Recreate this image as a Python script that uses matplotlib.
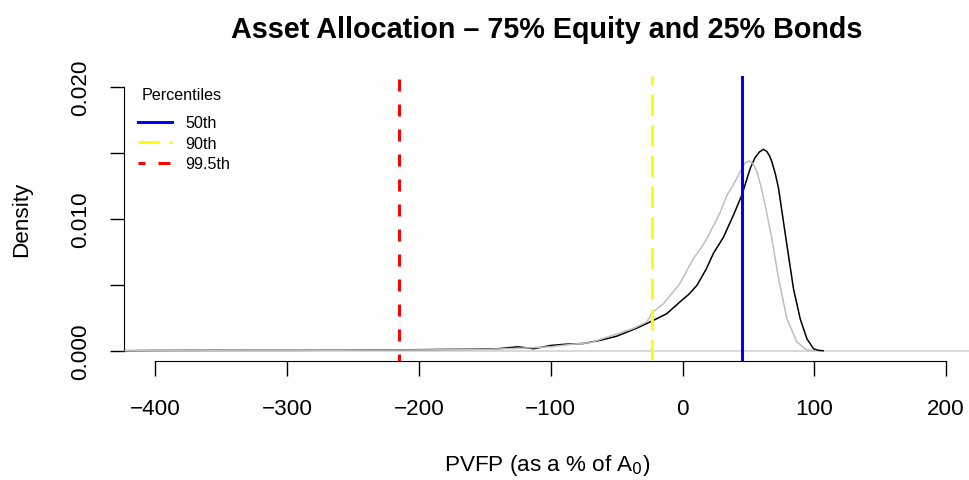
import matplotlib
matplotlib.use("Agg")
import matplotlib.pyplot as plt
from matplotlib.lines import Line2D

plt.rcParams['font.family'] = ['Liberation Sans', 'DejaVu Sans']
plt.rcParams['lines.scale_dashes'] = False

# ── density curves ───────────────────────────────────────────
eq75_x = [-423, -400, -350, -300, -260, -230, -200, -180, -160, -140, -125,
          -113, -100, -88, -75, -62, -50, -35, -23, -12, -2, 5, 11, 18,
          23.5, 31, 38.7, 45, 51.4, 55, 58.5, 61.5, 64, 66, 67.8, 70.5,
          72.9, 76.6, 80.4, 84.2, 89.3, 94.4, 99.4, 103, 106.7]
eq75_y = [0.0, 0.00002, 0.00003, 0.00003, 0.00004, 0.00006, 0.00008, 0.0001,
          0.00011, 0.00015, 0.0003, 0.00015, 0.0004, 0.0005, 0.00055,
          0.0008, 0.0011, 0.0017, 0.00226, 0.00281, 0.0037, 0.0043, 0.00497,
          0.0062, 0.0074, 0.0086, 0.0103, 0.0118, 0.01384, 0.01465, 0.0151,
          0.01528, 0.01512, 0.0148, 0.01435, 0.0134, 0.01232, 0.00979,
          0.00725, 0.00472, 0.00243, 0.00091, 0.00015, 0.00003, 0.0]

ref_x = [-423, -300, -250, -200, -150, -125, -100, -83, -70, -52, -37, -27,
         -23, -14.4, -2, 8.3, 13.4, 18.5, 23.5, 28.6, 33.7, 38.7, 43.8, 47.5,
         50.8, 53.5, 56.4, 59.5, 62.7, 67.8, 72.9, 79.2, 86.8, 94.4, 100]
ref_y = [0.00001, 0.00003, 0.00004, 0.00006, 0.0001, 0.00018, 0.0003, 0.0005,
         0.00061, 0.0012, 0.0017, 0.0022, 0.0029, 0.00357, 0.0051, 0.0070,
         0.0077, 0.0085, 0.0095, 0.0105, 0.0118, 0.0126, 0.0136, 0.01425,
         0.0144, 0.0142, 0.0136, 0.0125, 0.01105, 0.00852, 0.00548, 0.00243,
         0.00066, 0.00005, 0.0]

# percentiles
pct_labels = ['50th', '90th', '99.5th']
pct_values = [45.3, -23, -215]
pct_colors = ['blue', 'yellow', 'red']
pct_dashes = ['solid', (0, (15.5, 6.6)), (3.6, (8.64, 9.36))]

x_ticks = [-400, -300, -200, -100, 0, 100, 200]
x_ticklabels = ['\u2212400', '\u2212300', '\u2212200', '\u2212100', '0', '100', '200']
y_ticks = [0.0, 0.005, 0.010, 0.015, 0.020]
y_ticklabels = ['0.000', '', '0.010', '', '0.020']

fig = plt.figure(figsize=(9.7, 4.81), dpi=100, facecolor='white')
ax = fig.add_axes([124 / 970, 1 - 362 / 481, 1 - 124 / 970, 285 / 481])
ax.set_xlim(-423.9, 218.2)
ax.set_ylim(-0.00078, 0.02085)

ax.axhline(0, color='#D0D0D0', lw=1.1, zorder=1)
ax.plot(eq75_x, eq75_y, color='black', lw=1.1, zorder=2)
ax.plot(ref_x, ref_y, color='#BEBEBE', lw=1.1, zorder=3)

for v, c, ls in zip(pct_values, pct_colors, pct_dashes):
    ax.axvline(v, color=c, lw=2.16, linestyle=ls, zorder=4)

# R-style detached axes
for s in ['top', 'right']:
    ax.spines[s].set_visible(False)
ax.spines['bottom'].set_bounds(-400, 200)
ax.spines['left'].set_bounds(0, 0.02)

ax.set_xticks(x_ticks)
ax.set_xticklabels(x_ticklabels)
ax.set_yticks(y_ticks)
ax.set_yticklabels(y_ticklabels, rotation=90, va='center')
ax.tick_params(axis='x', length=10.8, width=1.0, pad=15.5, labelsize=16.2)
ax.tick_params(axis='y', length=10.2, width=1.0, pad=13.5, labelsize=16.2)

ax.set_xlabel('PVFP (as a % of A$_0$)', fontsize=16.2, labelpad=24)
ax.set_ylabel('Density', fontsize=16.2, labelpad=27)
ax.set_title('Asset Allocation \u2013 75% Equity and 25% Bonds',
             fontsize=20.7, fontweight='bold', pad=27.8)

# legend (title placed as its own text, R-style spacing)
handles = [Line2D([], [], color=c, lw=2.16, linestyle=ls)
           for c, ls in zip(pct_colors, pct_dashes)]
ax.legend(handles, pct_labels, loc='upper left',
          bbox_to_anchor=(138 / 970, 1 - 116.5 / 481),
          bbox_transform=fig.transFigure, frameon=False,
          fontsize=11.6, handlelength=2.1, handletextpad=0.85,
          labelspacing=0.34, borderpad=0, borderaxespad=0)
fig.text(141.7 / 970, 1 - 95 / 481, 'Percentiles', fontsize=11.6,
         ha='left', va='center')

fig.savefig('out.png', dpi=100, facecolor='white')
